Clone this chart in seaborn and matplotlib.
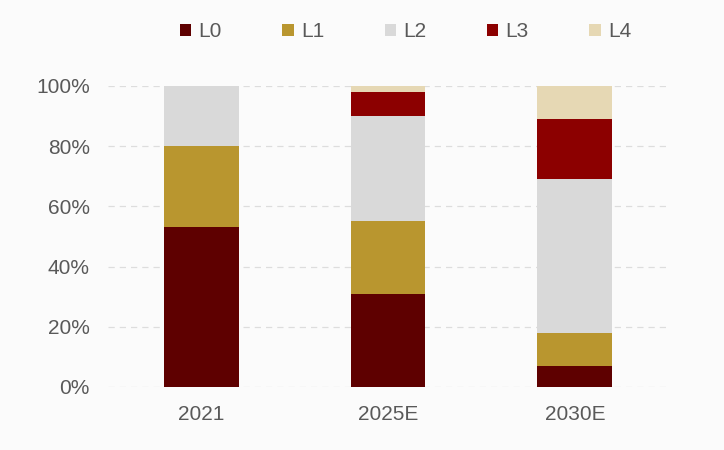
import numpy as np
import pandas as pd
import matplotlib
matplotlib.use("Agg")
import matplotlib.pyplot as plt
import matplotlib.patches as mpatches
from matplotlib.ticker import PercentFormatter
import seaborn as sns

# ── Data (share of each level, %) ──────────────────────────────────────────────
years = ["2021", "2025E", "2030E"]
levels = ["L0", "L1", "L2", "L3", "L4"]
L0 = [53, 31, 7]
L1 = [27, 24, 11]
L2 = [20, 35, 51]
L3 = [0, 8, 20]
L4 = [0, 2, 11]

colors = {
    "L0": "#5E0000",
    "L1": "#B9962F",
    "L2": "#D9D9D9",
    "L3": "#8C0000",
    "L4": "#E6D8B4",
}

df = pd.DataFrame({"Year": years, "L0": L0, "L1": L1, "L2": L2, "L3": L3, "L4": L4})
# cumulative tops, so bars can be overlaid from the top layer down
cum = df[levels].cumsum(axis=1) / 100.0

sns.set_style("white")
plt.rcParams["font.family"] = ["Liberation Sans", "DejaVu Sans"]

fig = plt.figure(figsize=(7.24, 4.5), dpi=100, facecolor="#FBFBFB")
ax = fig.add_axes([0.149, 0.14, 0.774, 0.669])
ax.set_facecolor("#FBFBFB")

for lvl in reversed(levels):
    sns.barplot(x=df["Year"], y=cum[lvl], color=colors[lvl], width=0.4,
                saturation=1, linewidth=0, ax=ax, zorder=3)

ax.set_ylim(0, 1.0)
ax.set_xlim(-0.5, 2.5)
ax.set_yticks(np.arange(0, 1.01, 0.2))
ax.yaxis.set_major_formatter(PercentFormatter(1.0, decimals=0))
ax.grid(axis="y", color="#DDDDDD", linestyle=(0, (5, 4)), linewidth=0.9, zorder=0)
ax.set_xlabel("")
ax.set_ylabel("")
for s in ["top", "right", "left", "bottom"]:
    ax.spines[s].set_visible(False)
ax.tick_params(axis="both", length=0, labelsize=15, labelcolor="#595959")
ax.tick_params(axis="x", pad=13)
ax.tick_params(axis="y", pad=13)

handles = [mpatches.Patch(facecolor=colors[l], edgecolor="none", label=l) for l in levels]
fig.legend(handles=handles, loc="center", bbox_to_anchor=(0.56, 0.929), ncol=5,
           frameon=False, fontsize=15, handlelength=0.55, handleheight=0.55,
           handletextpad=0.35, columnspacing=2.9, labelcolor="#595959")

fig.savefig("out.png", dpi=100, facecolor=fig.get_facecolor())
